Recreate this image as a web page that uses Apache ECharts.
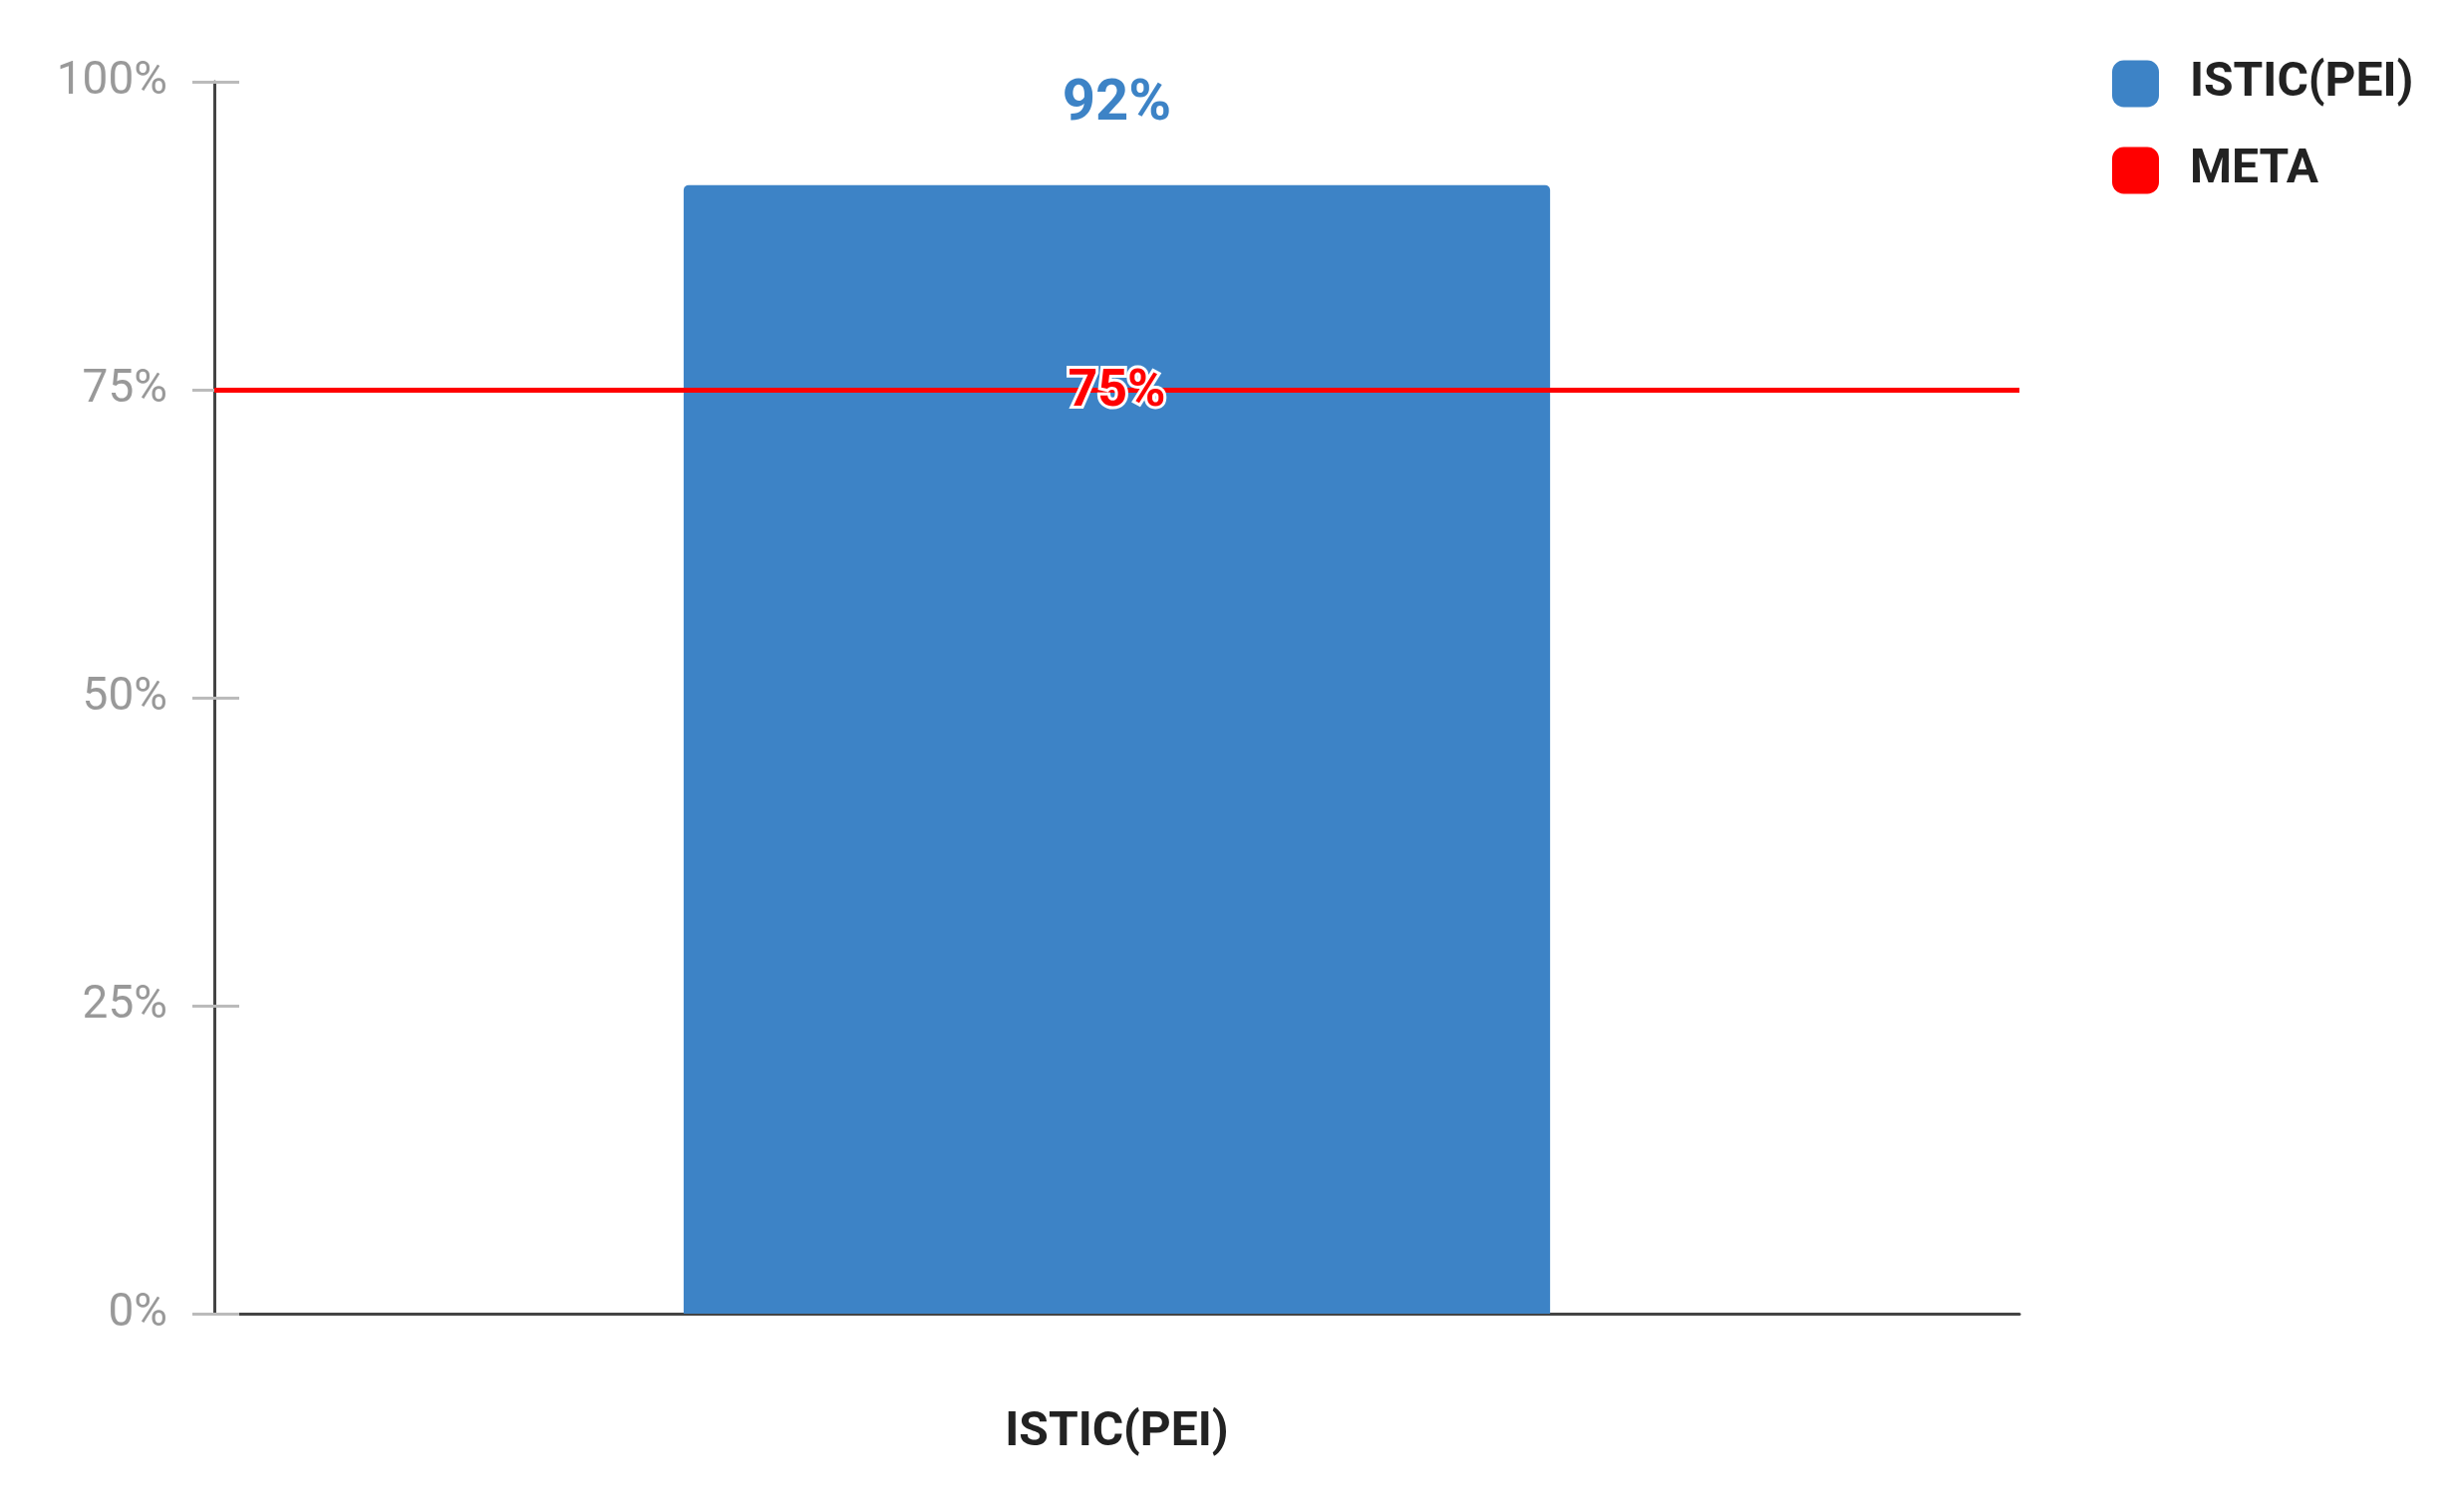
<!DOCTYPE html>
<html>
<head>
<meta charset="utf-8">
<script src="https://cdn.jsdelivr.net/npm/echarts@6/dist/echarts.min.js"></script>
<style>
html,body{margin:0;padding:0;background:#fff;}
#chart{width:2466px;height:1517px;}
</style>
</head>
<body>
<div id="chart"></div>
<script>
const categories = ['ISTIC(PEI)'];
const seriesNames = ['ISTIC(PEI)', 'META'];
const istic = [0.916];
const metaValue = 0.75;
const yTicks = [0, 0.25, 0.5, 0.75, 1];

const BLUE = '#3d83c6';
const RED = '#ff0000';
const FONT = 'Roboto';

const chart = echarts.init(document.getElementById('chart'), null, {renderer: 'canvas'});
const pct = v => Math.round(v * 100) + '%';

chart.setOption({
  animation: false,
  backgroundColor: '#fff',
  textStyle: {fontFamily: FONT},
  grid: {left: 215, right: 440, top: 82, bottom: 199, containLabel: false},
  legend: {
    orient: 'vertical',
    left: 2114,
    top: 55,
    itemWidth: 47,
    itemHeight: 47,
    itemGap: 39,
    icon: 'roundRect',
    textStyle: {fontFamily: FONT, fontSize: 48, fontWeight: 'bold', color: '#222', padding: [0, 0, 0, 26]},
    data: seriesNames
  },
  xAxis: {
    type: 'category',
    data: categories,
    axisLine: {show: true, lineStyle: {color: '#444', width: 3}},
    axisTick: {show: false},
    axisLabel: {fontFamily: FONT, fontSize: 48, fontWeight: 'bold', color: '#222', margin: 96}
  },
  yAxis: [{
    type: 'value',
    min: yTicks[0],
    max: yTicks[yTicks.length - 1],
    interval: 0.25,
    axisLine: {show: true, lineStyle: {color: '#444', width: 3}},
    axisTick: {show: true, length: 22, lineStyle: {color: '#bbb', width: 3}},
    splitLine: {show: false},
    axisLabel: {fontFamily: FONT, fontSize: 46, color: '#999', margin: 47, formatter: v => pct(v)}
  }, {
    type: 'value',
    position: 'left',
    min: yTicks[0],
    max: yTicks[yTicks.length - 1],
    interval: 0.25,
    axisLine: {show: false},
    axisTick: {show: true, inside: true, length: 25, lineStyle: {color: '#bbb', width: 3}},
    splitLine: {show: false},
    axisLabel: {show: false}
  }],
  series: [{
    name: seriesNames[0],
    type: 'bar',
    data: istic,
    barWidth: '48%',
    itemStyle: {color: BLUE, borderRadius: [5, 5, 0, 0]},
    label: {
      show: true,
      position: 'top',
      distance: 51,
      fontFamily: FONT,
      fontSize: 58,
      fontWeight: 'bold',
      color: BLUE,
      formatter: p => pct(p.value)
    },
    z: 2
  }, {
    name: seriesNames[1],
    type: 'line',
    data: [],
    itemStyle: {color: RED},
    lineStyle: {color: RED},
    markLine: {
      silent: true,
      symbol: ['none', 'none'],
      lineStyle: {color: RED, width: 5, type: 'solid'},
      label: {
        show: true,
        position: 'middle',
        distance: 0,
        offset: [0, 3],
        fontFamily: FONT,
        fontSize: 52,
        fontWeight: 'bold',
        color: RED,
        textBorderColor: '#fff',
        textBorderWidth: 6,
        verticalAlign: 'middle',
        formatter: p => pct(p.value)
      },
      data: [{yAxis: metaValue}]
    },
    z: 5
  }]
});
</script>
</body>
</html>
